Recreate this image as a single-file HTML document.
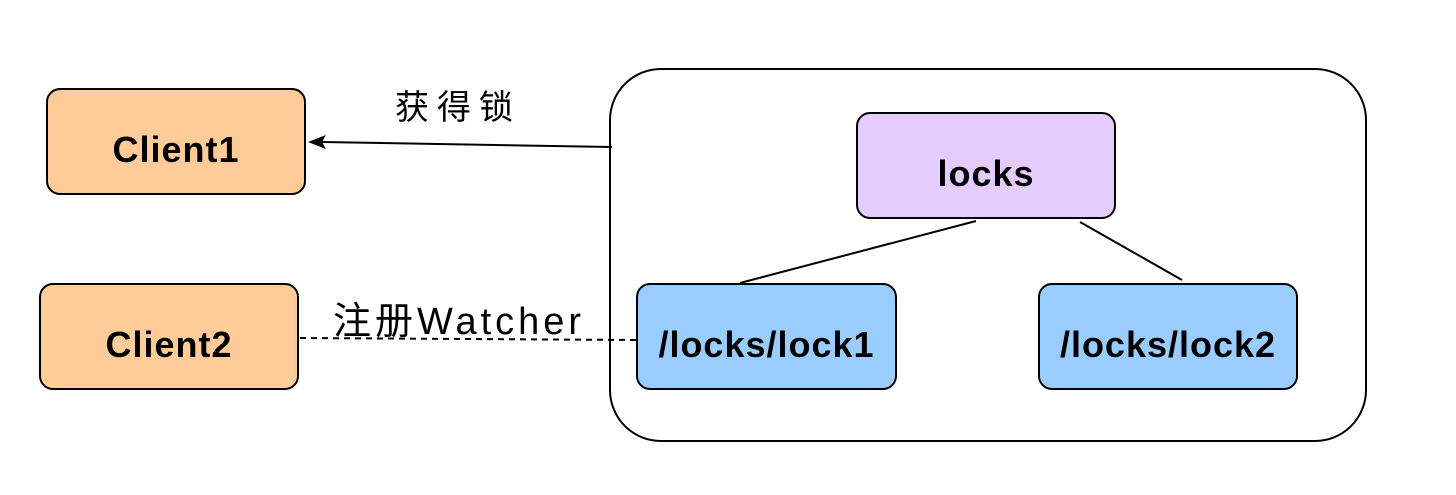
<!DOCTYPE html>
<html><head><meta charset="utf-8"><style>
body{margin:0;background:#fff;width:1456px;height:495px;overflow:hidden;position:relative;font-family:"Liberation Sans","Noto Sans CJK SC",sans-serif}
.b{position:absolute;box-sizing:border-box;border:2px solid #000;border-radius:14px;display:flex;align-items:center;justify-content:center;font-weight:bold;font-size:36px;letter-spacing:1px;color:#000;padding-top:16px}
.o{background:#ffcc99}.p{background:#e5ccff}.bl{background:#99ccff}
.t{position:absolute;color:#000;white-space:nowrap}
</style></head><body>
<div class="b" style="left:609px;top:68px;width:758px;height:374px;border-radius:52px;background:#fff"></div>
<svg width="1456" height="495" style="position:absolute;left:0;top:0">
<line x1="612" y1="147" x2="322" y2="142" stroke="#000" stroke-width="2"/>
<polygon points="308,142 326,135 322,142 326,149" fill="#000"/>
<line x1="300" y1="338" x2="636" y2="340" stroke="#000" stroke-width="2" stroke-dasharray="6,5"/>
<line x1="976" y1="221" x2="740" y2="283" stroke="#000" stroke-width="2"/>
<line x1="1080" y1="222" x2="1182" y2="280" stroke="#000" stroke-width="2"/>
</svg>
<div class="b o" style="left:46px;top:88px;width:260px;height:107px">Client1</div>
<div class="b o" style="left:39px;top:283px;width:260px;height:107px">Client2</div>
<div class="b p" style="left:856px;top:112px;width:260px;height:107px">locks</div>
<div class="b bl" style="left:636px;top:283px;width:261px;height:107px">/locks/lock1</div>
<div class="b bl" style="left:1038px;top:283px;width:260px;height:107px">/locks/lock2</div>
<div class="t" style="left:395px;top:80px;font-size:34px;letter-spacing:8px">获得锁</div>
<div class="t" style="left:333px;top:290px;font-size:38px;letter-spacing:4px">注册Watcher</div>
</body></html>
